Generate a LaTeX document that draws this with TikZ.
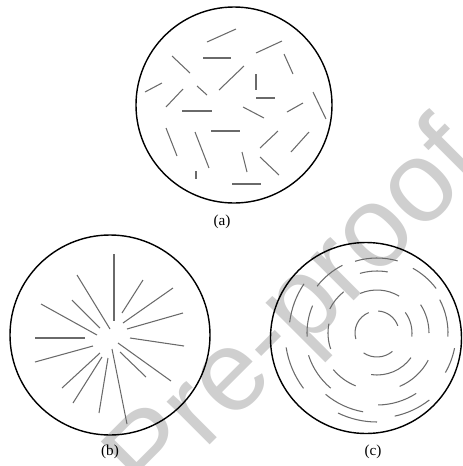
\documentclass[tikz,border=0pt]{standalone}
\usepackage{fontspec}
\setmainfont{Liberation Serif}
\newfontfamily\marcafont{Liberation Sans}
\definecolor{cfibra}{HTML}{6A6A6A}
\definecolor{cmarca}{HTML}{CFCFCF}
\tikzset{
  disco/.style={draw=black,line width=1.2pt},
  fibra/.style={draw=cfibra,line width=0.9pt},
  etiq/.style={font=\fontsize{13}{14}\selectfont,inner sep=1pt},
  marca/.style={text=cmarca,font=\marcafont\fontsize{98}{100}\selectfont,inner sep=0pt},
}

\begin{document}
\begin{tikzpicture}[x=0.03cm,y=-0.03cm]
\useasboundingbox (0,0) rectangle (462,466);

% ---------------- marca de agua ----------------
\begin{scope}
  \clip (0,0) rectangle (462,466);
  \node[marca,anchor=base west,rotate=45] (marca) at (150,505) {Pre-proof};
\end{scope}

% ---------------- (a) al azar ----------------
\coordinate (ca) at (234,105);
\draw[disco] (ca) circle[radius=98];
\foreach \xa/\ya/\xb/\yb in {207/42/236/29, 256/53/282/41, 203/58/231/58,
    172/56/190/73, 284/54/293/74, 219/90/244/66, 256/74/256/90,
    145/92/162/83, 197/86/207/95, 166/107/183/89, 256/98/275/98,
    313/92/326/119, 182/111/212/111, 243/107/264/118, 287/112/303/103,
    166/128/177/156, 211/131/240/131, 195/132/209/168, 260/148/278/131,
    291/152/309/132, 242/152/247/172, 260/157/279/175, 196/171/196/179,
    232/184/261/184}
  \draw[fibra] (\xa,\ya) -- (\xb,\yb);
\node[etiq] (la) at (222,222) {(a)};

% ---------------- (b) radial ----------------
\coordinate (cb) at (110,335);
\draw[disco] (cb) circle[radius=100];
\foreach \xa/\ya/\xb/\yb in {114/254/114/321, 77/275/110/329, 143/280/122/313,
    173/288/123/323, 41/304/97/335, 72/300/100/328, 183/313/127/329,
    35/338/85/338, 130/338/184/346, 35/362/93/346, 118/343/171/381,
    120/352/146/377, 62/388/100/353, 73/403/102/357, 108/358/99/413,
    112/349/127/424}
  \draw[fibra] (\xa,\ya) -- (\xb,\yb);
\node[etiq] (lb) at (110,452) {(b)};

% ---------------- (c) concentrica ----------------
\coordinate (cc) at (366,338);
\coordinate (cf) at (377,333);
\draw[disco] (cc) circle[radius=95.5];
\foreach \a/\b/\r in {164/248/22, 273/341/22, 50/124/24,
    247/301/43, 324/366/35, 36/98/42,
    207/231/53, 161/191/49, 112/140/57, 28/67/58, 327/360/52, 254/280/62,
    218/243/76, 253/286/75, 299/323/74, 332/363/71, 11/30/79, 57/89/72,
    100/130/80, 130/162/72, 177/203/70,
    187/214/88, 143/171/92, 90/116/89, 52/78/85}
  \draw[fibra] ([shift={(\a:\r)}]cf) arc[start angle=\a, end angle=\b, radius=\r];
\node[etiq] (lc) at (373,452) {(c)};

\end{tikzpicture}
\end{document}
